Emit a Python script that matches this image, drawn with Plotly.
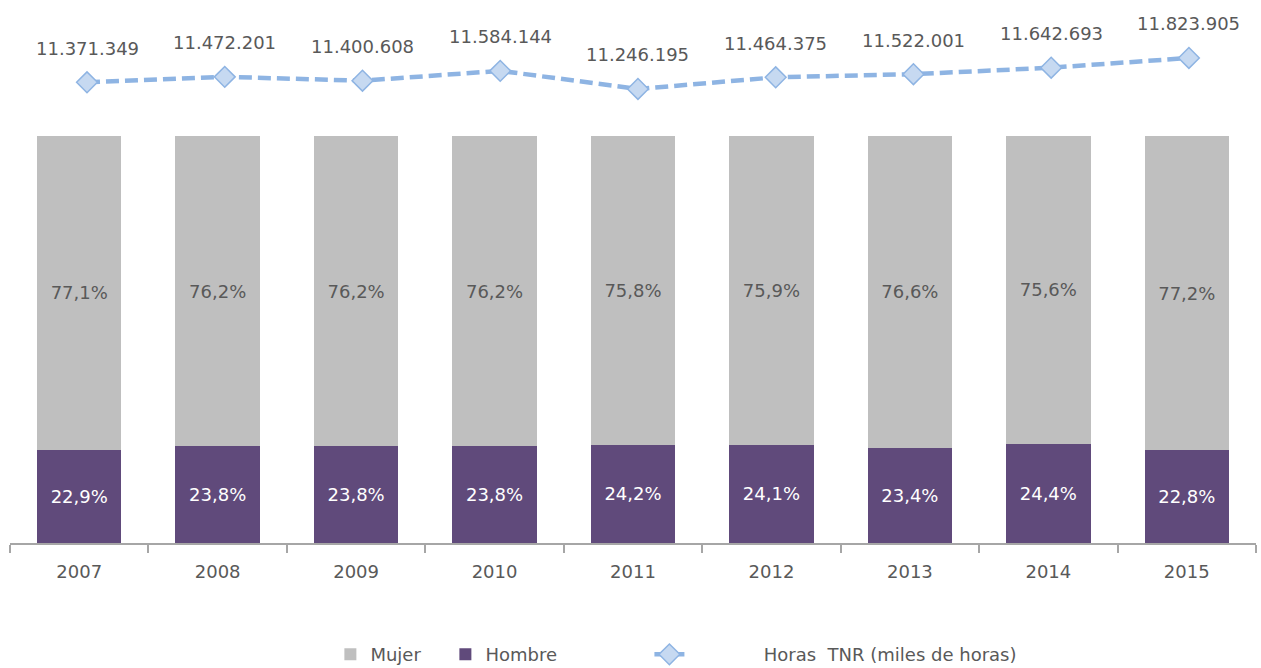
import plotly.graph_objects as go

# Data
years = ["2007", "2008", "2009", "2010", "2011", "2012", "2013", "2014", "2015"]
mujer_pct = [77.1, 76.2, 76.2, 76.2, 75.8, 75.9, 76.6, 75.6, 77.2]
hombre_pct = [22.9, 23.8, 23.8, 23.8, 24.2, 24.1, 23.4, 24.4, 22.8]
horas_tnr = [11371349, 11472201, 11400608, 11584144, 11246195, 11464375, 11522001, 11642693, 11823905]

FONT = "DejaVu Sans"
GRAY_TXT = "#595959"
FS = 18


def pct(v):
    return f"{v:.1f}".replace(".", ",") + "%"


def miles(v):
    return f"{v:,}".replace(",", ".")


idx = list(range(len(years)))

fig = go.Figure()

fig.add_trace(go.Bar(
    x=years, y=hombre_pct, name="Hombre", legendrank=2, legend="legend",
    marker=dict(color="#604A7B", line=dict(width=0)),
    text=[pct(v) for v in hombre_pct], textposition="inside",
    insidetextanchor="middle",
    textfont=dict(family=FONT, size=FS, color="white"),
))
fig.add_trace(go.Bar(
    x=years, y=mujer_pct, name="Mujer", legendrank=1, legend="legend",
    marker=dict(color="#BFBFBF", line=dict(width=0)),
    text=[pct(v) for v in mujer_pct], textposition="inside",
    insidetextanchor="middle",
    textfont=dict(family=FONT, size=FS, color=GRAY_TXT),
))
# Line series on its own (slightly narrower) secondary x scale
fig.add_trace(go.Scatter(
    x=idx, y=horas_tnr, xaxis="x2", yaxis="y2", legend="legend2",
    name="\u00a0" * 13 + "Horas\u00a0 TNR (miles de horas)",
    mode="lines+markers",
    line=dict(color="#8EB4E3", width=4.5, dash="13px,6px"),
    marker=dict(symbol="diamond", size=16, color="#C6D9F1",
                line=dict(color="#8EB4E3", width=1.5)),
))

# Value labels above the line markers
for i, v in zip(idx, horas_tnr):
    fig.add_annotation(
        x=i, y=v, xref="x2", yref="y2", text=miles(v), showarrow=False,
        yshift=34, font=dict(family=FONT, size=FS, color=GRAY_TXT),
    )

plot_h = 523
bar_top = 407 / plot_h
line_lo = (543 - 110) / plot_h

fig.update_layout(
    width=1261, height=668,
    margin=dict(l=10, r=5, t=20, b=125, autoexpand=False),
    paper_bgcolor="white", plot_bgcolor="white",
    barmode="stack", bargap=0.39,
    font=dict(family=FONT, size=FS, color=GRAY_TXT),
    xaxis=dict(
        type="category", range=[-0.5, len(years) - 0.5],
        showline=True, linecolor="#A6A6A6", linewidth=1.5,
        ticks="outside", tickson="boundaries", ticklen=8, tickcolor="#A6A6A6",
        tickwidth=1.5, showgrid=False, tickangle=0, ticklabelstandoff=12,
        tickfont=dict(family=FONT, size=FS, color=GRAY_TXT),
    ),
    xaxis2=dict(overlaying="x", range=[-0.559, 8.487], visible=False,
                showgrid=False, anchor="y2"),
    yaxis=dict(domain=[0, bar_top], range=[0, 100], visible=False, showgrid=False),
    yaxis2=dict(domain=[line_lo, 1], range=[10855000, 12531000], visible=False,
                showgrid=False, anchor="x"),
    legend=dict(
        orientation="h", xref="container", yref="container",
        x=0.262, xanchor="left", y=0.02, yanchor="middle",
        font=dict(family=FONT, size=FS, color=GRAY_TXT),
        traceorder="normal", entrywidth=70,
    ),
    legend2=dict(
        orientation="h", xref="container", yref="container",
        x=0.515, xanchor="left", y=0.02, yanchor="middle",
        font=dict(family=FONT, size=FS, color=GRAY_TXT),
    ),
    showlegend=True,
)

fig.write_html("out.html")
